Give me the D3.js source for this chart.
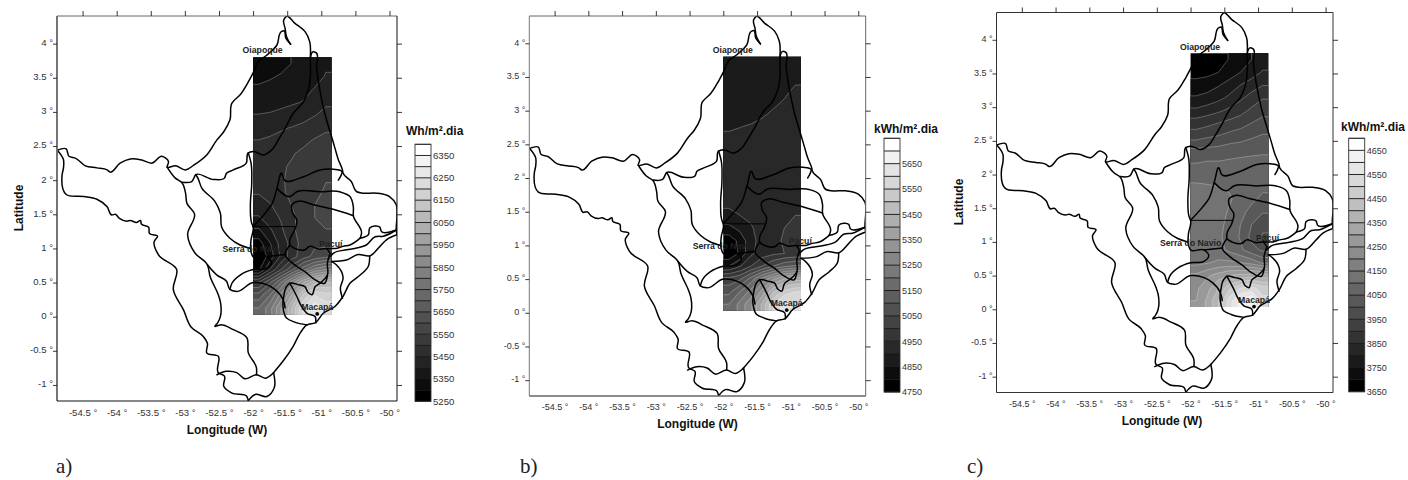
<!DOCTYPE html>
<html><head><meta charset="utf-8">
<script src="https://cdn.jsdelivr.net/npm/d3@7"></script>
<style>html,body{margin:0;padding:0;background:#fff}svg{display:block}</style></head>
<body><svg id="c" width="1408" height="480"></svg>
<script>
// ---------- data (lon, lat in degrees) ----------
const lonTicks=[-54.5,-54,-53.5,-53,-52.5,-52,-51.5,-51,-50.5,-50];
const latTicks=[4,3.5,3,2.5,2,1.5,1,0.5,0,-0.5,-1];
const lonDomain=[-54.875,-49.89];
const latDomain=[-1.235,4.405];
const fieldLon=[-52,-50.85];
const fieldLat=[3.8,0.034];
const placeNames=["Oiapoque","Serra do Navio","Pacuí","Macapá"];
const placeLon=[-51.86,-52,-50.86,-51.06];
const placeLat=[3.90,0.99,1.06,0.14];
const macapaPoint=[-51.06,0.04];

const northWest=[[-54.87,2.44],[-54.74,2.46],[-54.70,2.35],[-54.60,2.32],[-54.46,2.21],[-54.29,2.18],[-54.14,2.15],[-54.10,2.12],[-53.95,2.25],[-53.80,2.31],[-53.65,2.30],[-53.48,2.25],[-53.34,2.35],[-53.24,2.27],[-53.26,2.19],[-53.14,2.21],[-52.99,2.15],[-52.87,2.22],[-52.68,2.37],[-52.53,2.59],[-52.43,2.71],[-52.34,2.88],[-52.31,3.13],[-52.19,3.25],[-52.07,3.44],[-51.99,3.59],[-51.92,3.74],[-51.80,3.83],[-51.65,3.98],[-51.58,4.18],[-51.55,4.19],[-51.52,4.08],[-51.45,3.99]];
const capeInner=[[-51.45,3.99],[-51.51,4.10],[-51.53,4.22],[-51.55,4.35],[-51.51,4.40],[-51.39,4.30],[-51.24,4.18],[-51.17,4.03],[-51.16,3.79],[-51.19,3.32],[-51.26,3.15],[-51.41,2.98],[-51.53,2.76],[-51.63,2.59],[-51.73,2.44],[-51.85,2.37],[-52.00,2.42],[-52.07,2.40],[-52.10,2.25],[-52.29,2.15],[-52.39,2.10],[-52.42,2.03],[-52.58,2.01],[-52.84,2.08],[-52.90,1.98],[-53.04,1.97]];
const eastCoastNorth=[[-51.16,3.79],[-51.12,3.88],[-51.08,3.87],[-51.07,3.66],[-51.03,3.37],[-50.95,2.98],[-50.85,2.64],[-50.80,2.47],[-50.75,2.30],[-50.69,2.15],[-50.68,2.10],[-50.56,1.98],[-50.48,1.83],[-50.39,1.81],[-50.19,1.81],[-50.00,1.76],[-49.90,1.64],[-49.89,1.47],[-49.90,1.27],[-49.89,1.20]];
const innerWest=[[-52.84,2.08],[-52.82,2.05],[-52.75,1.88],[-52.56,1.69],[-52.48,1.52],[-52.46,1.31],[-52.34,1.15],[-52.19,1.05],[-52.04,1.00]];
const jariEast=[[-53.26,2.19],[-53.14,2.03],[-53.04,1.96],[-52.99,1.81],[-52.97,1.66],[-52.86,1.51],[-52.96,1.20],[-52.85,0.93],[-52.67,0.76],[-52.63,0.59],[-52.51,0.32],[-52.48,0.22],[-52.52,-0.09],[-52.56,-0.14],[-52.48,-0.12],[-52.29,-0.19],[-52.09,-0.31],[-52.07,-0.53],[-51.95,-0.75],[-51.95,-0.85]];
const jariWest=[[-54.87,2.44],[-54.78,2.30],[-54.78,2.18],[-54.80,2.08],[-54.74,1.79],[-54.48,1.76],[-54.29,1.72],[-54.14,1.61],[-54.07,1.49],[-54.02,1.50],[-53.96,1.44],[-53.85,1.40],[-53.80,1.41],[-53.71,1.38],[-53.65,1.41],[-53.64,1.36],[-53.53,1.31],[-53.52,1.22],[-53.40,1.18],[-53.45,1.10],[-53.39,0.91],[-53.12,0.69],[-53.17,0.40],[-53.02,0.10],[-52.91,-0.15],[-52.73,-0.29],[-52.67,-0.39],[-52.68,-0.53],[-52.51,-0.58],[-52.51,-0.82],[-52.42,-0.87],[-52.43,-1.02],[-52.31,-1.12],[-52.09,-1.17],[-52.07,-1.23]];
const southCross=[[-52.53,-0.85],[-52.39,-0.80],[-52.24,-0.82],[-52.12,-0.91],[-51.95,-0.85],[-51.82,-0.90],[-51.70,-0.82]];
const southTip=[[-52.07,-1.23],[-51.97,-1.14],[-51.80,-1.17],[-51.69,-1.04],[-51.70,-0.82]];
const coastSouth=[[-51.70,-0.82],[-51.56,-0.65],[-51.41,-0.43],[-51.31,-0.24],[-51.21,-0.12],[-51.09,-0.09],[-50.97,0.05],[-50.80,0.15],[-50.68,0.30],[-50.58,0.49],[-50.43,0.61],[-50.31,0.74],[-50.29,0.89]];
const macapaLoop=[[-50.87,0.93],[-50.91,0.79],[-50.91,0.61],[-51.02,0.49],[-51.09,0.44],[-51.14,0.32],[-51.19,0.35],[-51.24,0.44],[-51.34,0.47],[-51.46,0.49],[-51.51,0.44],[-51.55,0.30],[-51.56,0.13],[-51.51,-0.02],[-51.39,-0.08],[-51.21,-0.12]];
const macapaInner=[[-51.46,0.49],[-51.36,0.30],[-51.29,0.15],[-51.21,0.05],[-51.09,0.00],[-51.08,-0.09]];
const middleLine=[[-52.67,0.76],[-52.53,0.61],[-52.39,0.52],[-52.34,0.40],[-52.24,0.37],[-52.00,0.50],[-51.80,0.47],[-51.68,0.40],[-51.56,0.25],[-51.53,0.13]];
const serraLobe=[[-52.34,0.40],[-52.31,0.49],[-52.19,0.61],[-52.00,0.69],[-51.80,0.71],[-51.73,0.79],[-51.80,0.88],[-52.00,0.88],[-52.04,1.00]];
const araguariLine=[[-51.46,1.05],[-51.53,0.91],[-51.39,0.76],[-51.24,0.66],[-51.09,0.54],[-50.95,0.49],[-50.91,0.61]];
const serraLink=[[-51.53,0.91],[-51.80,0.88]];
const leftEdge=[[-52.07,2.40],[-52.03,2.25],[-52.02,1.96],[-52.04,1.61],[-52.02,1.37],[-52.00,1.32],[-52.03,1.13],[-52.04,1.00]];
const ridgeNorth=[[-52.00,1.32],[-51.82,1.52],[-51.73,1.64],[-51.65,1.88],[-51.58,2.10],[-51.54,2.00],[-51.26,2.05],[-51.02,2.15],[-50.82,2.16],[-50.70,2.13],[-50.75,2.00]];
const ridgeMiddle=[[-51.65,1.88],[-51.46,1.76],[-51.36,1.83],[-51.02,1.83],[-50.73,1.83],[-50.58,1.76],[-50.53,1.61],[-50.53,1.48],[-50.41,1.22],[-50.43,1.15]];
const ridgeSouth=[[-50.53,1.48],[-50.85,1.58],[-51.12,1.64],[-51.34,1.69],[-51.43,1.64],[-51.42,1.52],[-51.36,1.42],[-51.39,1.27],[-51.46,1.13],[-51.46,1.05],[-51.39,1.00],[-51.24,0.98],[-51.17,1.03],[-51.04,0.99],[-50.92,1.00],[-50.78,1.00],[-50.68,1.03],[-50.58,1.05],[-50.43,1.15]];
const straightLine=[[-52.00,1.32],[-51.39,1.32]];
const eastBay=[[-50.43,1.15],[-50.31,1.20],[-50.29,1.30],[-50.14,1.31],[-50.12,1.25],[-49.90,1.27]];
const eastChannelA=[[-49.89,1.20],[-50.04,1.13],[-50.14,1.03],[-50.29,0.89],[-50.46,0.91],[-50.63,0.83],[-50.85,0.81]];
const eastChannelB=[[-49.90,1.27],[-50.09,1.18],[-50.21,1.17],[-50.34,1.05],[-50.51,1.00],[-50.63,0.98],[-50.82,0.93],[-50.87,0.88]];
const eastInlet=[[-50.85,0.81],[-50.78,0.76],[-50.68,0.57],[-50.72,0.42],[-50.69,0.27]];
const pacuiLink=[[-50.92,1.00],[-50.87,0.93]];
const straightBoundaries=[straightLine];
const boundaries=[northWest,capeInner,eastCoastNorth,innerWest,jariEast,jariWest,southCross,southTip,coastSouth,macapaLoop,macapaInner,middleLine,serraLobe,araguariLine,serraLink,leftEdge,ridgeNorth,ridgeMiddle,ridgeSouth,eastBay,eastChannelA,eastChannelB,eastInlet,pacuiLink];

// irradiation: 20 rows (north to south) of 7 columns (west to east)
const gridCols=7, gridRows=20;
const fieldA=[
5310,5320,5335,5352,5367,5382,5396,
5335,5345,5355,5365,5378,5390,5402,
5360,5365,5372,5380,5390,5402,5418,
5377,5382,5388,5395,5402,5420,5442,
5402,5405,5412,5420,5430,5448,5465,
5425,5435,5445,5453,5465,5478,5492,
5452,5458,5465,5475,5490,5505,5515,
5465,5475,5490,5497,5510,5520,5530,
5470,5480,5495,5505,5515,5528,5540,
5470,5480,5497,5507,5520,5532,5548,
5455,5475,5495,5508,5522,5540,5556,
5425,5445,5480,5502,5522,5550,5560,
5395,5425,5455,5492,5520,5550,5562,
5340,5390,5440,5490,5525,5545,5548,
5275,5345,5420,5470,5525,5540,5535,
5255,5320,5410,5480,5530,5565,5590,
5290,5400,5500,5590,5680,5760,5800,
5500,5590,5700,5830,5950,6030,6050,
5620,5700,5820,5960,6110,6200,6170,
5700,5780,5900,6060,6210,6290,6230];
const fieldB=[
4860,4862,4865,4868,4872,4876,4880,
4865,4868,4870,4874,4878,4885,4892,
4868,4870,4875,4878,4884,4892,4903,
4872,4875,4878,4884,4892,4902,4912,
4878,4882,4888,4895,4905,4915,4925,
4897,4899,4903,4910,4918,4928,4935,
4905,4910,4914,4920,4928,4934,4940,
4910,4915,4920,4925,4932,4938,4942,
4910,4918,4925,4930,4935,4940,4945,
4905,4915,4925,4932,4938,4942,4947,
4915,4918,4925,4932,4938,4943,4947,
4908,4912,4920,4930,4938,4944,4948,
4890,4900,4910,4925,4938,4946,4950,
4835,4865,4895,4920,4938,4950,4956,
4770,4815,4885,4918,4938,4955,4962,
4755,4810,4890,4925,4940,4950,4955,
4850,4895,4950,5000,5050,5090,5110,
5017,5040,5120,5217,5290,5350,5380,
5083,5150,5217,5315,5440,5520,5550,
5150,5217,5290,5410,5550,5630,5600];
const fieldC=[
3662,3666,3678,3703,3725,3750,3775,
3680,3685,3700,3722,3750,3775,3805,
3720,3728,3745,3772,3800,3825,3848,
3755,3765,3785,3810,3840,3870,3895,
3810,3825,3840,3860,3880,3910,3940,
3875,3885,3900,3915,3930,3950,3960,
3925,3940,3950,3965,3975,3990,4005,
4000,4005,4010,4020,4025,4035,4040,
4045,4050,4050,4055,4060,4060,4060,
4075,4075,4075,4075,4075,4070,4065,
4110,4105,4100,4095,4085,4075,4060,
4140,4130,4120,4105,4085,4060,4040,
4145,4135,4120,4095,4065,4035,4005,
4150,4135,4115,4085,4050,4000,3960,
4145,4135,4110,4080,4045,3985,3945,
4130,4125,4115,4090,4060,4020,3990,
4135,4145,4160,4160,4150,4130,4090,
4210,4240,4270,4300,4310,4320,4320,
4240,4280,4350,4440,4500,4520,4470,
4250,4310,4400,4530,4620,4650,4520];
const legendA=d3.range(5250,6401,50);
const legendB=d3.range(4750,5751,50);
const legendC=d3.range(3650,4701,50);
const unitA="Wh/m².dia", unitKWh="kWh/m².dia";

// ---------- panel layout ----------
const panels=[
 {id:"a)",labelX:56,x:[57,397],y:[401,16],field:fieldA,legend:legendA,unit:unitA,lx:[415,431],ly:[401.3,144.3],titleX:406,titleY:135,xt:[227,434],latTitleX:23,latCy:208,frame:["#666","#666","#111","#111"],fs:9.6},
 {id:"b)",labelX:520,x:[529.3,865.7],y:[396,16],field:fieldB,legend:legendB,unit:unitKWh,lx:[884,900],ly:[392,138.3],titleX:874,titleY:133,xt:[697.5,428],latTitleX:null,frame:["#666","#777","#666","#666"],fs:9},
 {id:"c)",labelX:967,x:[996.5,1333],y:[392.5,12.5],field:fieldC,legend:legendC,unit:unitKWh,lx:[1348.7,1364.7],ly:[391.7,138.3],titleX:1341,titleY:131,xt:[1162,425],latTitleX:962.7,latCy:202,frame:["#333","#333","#333","#333"],fs:9}
];
const svg=d3.select("#c");
const sans="'Liberation Sans',Arial,sans-serif";

// Repeat the outer cells once so the isobands run straight to the edge of the clipped field.
function padGrid(v){
  const out=[];
  for(let r=-1;r<=gridRows;r++)for(let c=-1;c<=gridCols;c++){
    const rr=Math.max(0,Math.min(gridRows-1,r)),cc=Math.max(0,Math.min(gridCols-1,c));
    out.push(v[rr*gridCols+cc]);
  }
  return out;
}

panels.forEach((p,idx)=>{
  const g=svg.append("g");
  const sx=d3.scaleLinear().domain(lonDomain).range(p.x);
  const sy=d3.scaleLinear().domain(latDomain).range(p.y);
  const clipId="clip"+idx;
  svg.append("clipPath").attr("id",clipId).append("rect")
    .attr("x",p.x[0]).attr("y",p.y[1]).attr("width",p.x[1]-p.x[0]).attr("height",p.y[0]-p.y[1]);

  const fClip="fclip"+idx;
  svg.append("clipPath").attr("id",fClip).append("rect")
    .attr("x",sx(fieldLon[0])).attr("y",sy(fieldLat[0]))
    .attr("width",sx(fieldLon[1])-sx(fieldLon[0])).attr("height",sy(fieldLat[1])-sy(fieldLat[0]));

  // contoured field
  const levels=p.legend.slice(0,-1);
  const gray=d3.scaleLinear().domain([0,levels.length-1]).range([0,255]);
  const colorOf=i=>{const v=Math.round(gray(i));return `rgb(${v},${v},${v})`;};
  const lonS=d3.scaleLinear().domain([1,gridCols+1]).range(fieldLon);
  const latS=d3.scaleLinear().domain([1,gridRows+1]).range(fieldLat);
  const toScreen=d3.geoTransform({point(x,y){this.stream.point(sx(lonS(x)),sy(latS(y)));}});
  const path=d3.geoPath(toScreen);
  const contours=d3.contours().size([gridCols+2,gridRows+2]).smooth(true).thresholds(levels)(padGrid(p.field));
  const fg=g.append("g").attr("clip-path",`url(#${fClip})`);
  contours.forEach((c,i)=>{
    if(!c.coordinates.length) return;
    fg.append("path").attr("d",path(c)).attr("fill",colorOf(i)).attr("stroke","none");
  });
  contours.forEach((c,i)=>{
    if(i===0||!c.coordinates.length) return;
    fg.append("path").attr("d",path(c)).attr("fill","none").attr("stroke","#fff").attr("stroke-opacity",0.45).attr("stroke-width",0.6);
  });

  // boundaries
  const line=d3.line().x(d=>sx(d[0])).y(d=>sy(d[1])).curve(d3.curveCatmullRom.alpha(1));
  const bg=g.append("g").attr("clip-path",`url(#${clipId})`).attr("fill","none").attr("stroke","#000").attr("stroke-width",1.5).attr("stroke-linejoin","round").attr("stroke-linecap","round");
  bg.selectAll("path.b").data(boundaries).join("path").attr("class","b").attr("d",line);
  const straight=d3.line().x(d=>sx(d[0])).y(d=>sy(d[1]));
  bg.selectAll("path.s").data(straightBoundaries).join("path").attr("class","s").attr("d",straight).attr("stroke-width",1);

  // places
  placeNames.forEach((n,i)=>{
    g.append("text").attr("x",sx(placeLon[i])).attr("y",sy(placeLat[i])+3).attr("text-anchor","middle")
      .attr("font-family",sans).attr("font-size",8.7).attr("font-weight","bold").attr("fill","#222").text(n);
  });
  g.append("circle").attr("cx",sx(macapaPoint[0])).attr("cy",sy(macapaPoint[1])).attr("r",1.9).attr("fill","#000");

  // frame: top,left,bottom,right
  const [L,R]=p.x,[B,T]=p.y;
  const seg=(x1,y1,x2,y2,col,w)=>g.append("line").attr("x1",x1).attr("y1",y1).attr("x2",x2).attr("y2",y2).attr("stroke",col).attr("stroke-width",w);
  seg(L,T,R,T,p.frame[0],1); seg(L,T,L,B,p.frame[1],idx===0?1.8:1);
  seg(L,B,R,B,p.frame[2],idx===1?1.5:1); seg(R,T,R,B,p.frame[3],1);

  // axes via d3 scales
  const axTop=g.append("g").attr("transform",`translate(0,${T})`).call(d3.axisTop(sx).tickValues(lonTicks).tickSize(5).tickFormat(""));
  const axRight=g.append("g").attr("transform",`translate(${R},0)`).call(d3.axisRight(sy).tickValues(latTicks).tickSize(5).tickFormat(""));
  const axBottom=g.append("g").attr("transform",`translate(0,${B})`).call(d3.axisBottom(sx).tickValues(lonTicks).tickSize(0).tickPadding(8).tickFormat(d=>d+" °"));
  const axLeft=g.append("g").attr("transform",`translate(${L},0)`).call(d3.axisLeft(sy).tickValues(latTicks).tickSize(4).tickPadding(0).tickFormat(d=>d+" °"));
  [axTop,axRight,axBottom,axLeft].forEach(a=>{a.select(".domain").remove();a.selectAll("line").attr("stroke","#222").attr("stroke-width",.9);
    a.selectAll("text").attr("font-family",sans).attr("font-size",p.fs).attr("fill","#333");});
  axLeft.selectAll("text").attr("dy","0.2em");

  // axis titles
  g.append("text").attr("x",p.xt[0]).attr("y",p.xt[1]).attr("text-anchor","middle").attr("font-family",sans).attr("font-size",12).attr("font-weight","bold").attr("fill","#111").text("Longitude (W)");
  if(p.latTitleX!==null) g.append("text").attr("transform",`translate(${p.latTitleX},${p.latCy}) rotate(-90)`).attr("text-anchor","middle").attr("font-family",sans).attr("font-size",12).attr("font-weight","bold").attr("fill","#111").text("Latitude");

  // legend
  const ls=d3.scaleLinear().domain([p.legend[0],p.legend[p.legend.length-1]]).range(p.ly);
  const lgd=g.append("g");
  levels.forEach((v,i)=>{
    lgd.append("rect").attr("x",p.lx[0]).attr("width",p.lx[1]-p.lx[0]).attr("y",ls(v+50)).attr("height",ls(v)-ls(v+50)).attr("fill",colorOf(i));
  });
  p.legend.forEach(v=>{
    lgd.append("line").attr("x1",p.lx[0]).attr("x2",p.lx[1]).attr("y1",ls(v)).attr("y2",ls(v)).attr("stroke","#111").attr("stroke-width",.9);
  });
  lgd.append("rect").attr("x",p.lx[0]).attr("width",p.lx[1]-p.lx[0]).attr("y",p.ly[1]).attr("height",p.ly[0]-p.ly[1]).attr("fill","none").attr("stroke","#333").attr("stroke-width",.9);
  p.legend.filter((v,i)=>i%2===0&&v<p.legend[p.legend.length-1]).forEach(v=>{
    lgd.append("text").attr("x",p.lx[1]+2).attr("y",ls(v)+3.3).attr("font-family",sans).attr("font-size",p.fs).attr("fill","#333").text(v);
  });
  g.append("text").attr("x",p.titleX).attr("y",p.titleY).attr("font-family",sans).attr("font-size",12).attr("font-weight","bold").attr("fill","#111").text(p.unit);

  // panel letter
  g.append("text").attr("x",p.labelX).attr("y",473).attr("font-family","'Liberation Serif',serif").attr("font-size",21).attr("fill","#222").text(p.id);
});
</script></body></html>
